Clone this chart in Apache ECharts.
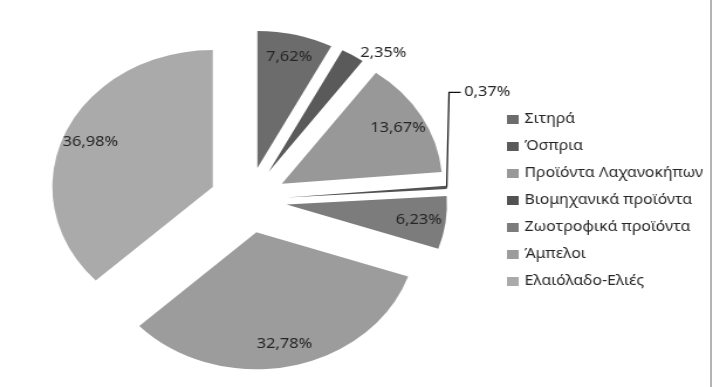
<!DOCTYPE html>
<html><head><meta charset="utf-8">
<script src="https://cdn.jsdelivr.net/npm/echarts/dist/echarts.min.js"></script>
<style>
html,body{margin:0;padding:0;background:#fff;overflow:hidden}
#wrap{position:relative;width:713px;height:387px;overflow:hidden;background:#fff}
#edge{position:absolute;left:710px;top:0;width:2px;height:387px;background:#b4b4b4}
#chart{position:absolute;left:0;top:0;width:609px;height:387px;transform:scaleX(1.1708);transform-origin:0 0}
</style></head><body>
<div id="wrap"><div id="chart"></div><div id="edge"></div></div>
<script>
// Data
const categories = ['Σιτηρά', 'Όσπρια', 'Προϊόντα Λαχανοκήπων', 'Βιομηχανικά προϊόντα', 'Ζωοτροφικά προϊόντα', 'Άμπελοι', 'Ελαιόλαδο-Ελιές'];
const shares = [7.62, 2.35, 13.67, 0.37, 6.23, 32.78, 36.98];
const colors = ['#6c6c6c', '#5a5a5a', '#989898', '#525252', '#7c7c7c', '#9c9c9c', '#aaaaaa'];
const outsideLabelled = ['Όσπρια', 'Βιομηχανικά προϊόντα'];

const fmt = v => v.toFixed(2).replace('.', ',') + '%';
const R = 137, OFF = 33, CENTER = [212, 200];
const FONT = 'Noto Sans';

const chart = echarts.init(document.getElementById('chart'), null, {renderer: 'canvas'});

const mainData = categories.map((n, i) => {
  const outside = outsideLabelled.includes(n);
  const item = {name: n, value: shares[i], selected: true, itemStyle: {color: colors[i]}};
  if (outside) {
    item.label = {show: true, position: 'outside'};
    if (n === 'Βιομηχανικά προϊόντα') {
      item.labelLine = {show: true, length: 2, length2: 2, lineStyle: {color: '#111', width: 1.2}};
    } else {
      item.labelLine = {show: false, length: 3, length2: 0};
    }
  }
  return item;
});

const labelData = categories.map((n, i) => ({
  name: n, value: shares[i], selected: true,
  label: {show: !outsideLabelled.includes(n)}
}));

const labelStyle = {fontFamily: FONT, fontSize: 14, color: '#262626', formatter: p => fmt(p.value)};

chart.setOption({
  animation: false,
  legend: {
    orient: 'vertical', left: 433, top: 112, padding: 0, itemWidth: 10, itemHeight: 9, itemGap: 12,
    icon: 'rect', selectedMode: false, data: categories,
    textStyle: {fontFamily: FONT, fontSize: 13.5, color: '#262626', lineHeight: 15}
  },
  series: [
    {
      type: 'pie', center: CENTER, radius: [0, R], startAngle: 90, clockwise: true,
      selectedMode: 'multiple', selectedOffset: OFF, silent: true,
      label: Object.assign({show: false}, labelStyle),
      labelLine: {show: false},
      labelLayout: function (p) {
        if (p.dataIndex !== 3 || !p.labelLinePoints) return {};
        const p0 = p.labelLinePoints[0];
        const p1 = [p0[0] + 2, p0[1] - 95];
        const p2 = [p1[0] + 10, p1[1]];
        const r = p.labelRect;
        return {
          dx: p2[0] + 3 - r.x,
          dy: p2[1] - (r.y + r.height / 2),
          labelLinePoints: [p0, p1, p2]
        };
      },
      data: mainData
    },
    {
      type: 'pie', center: CENTER, radius: [R * 0.62, R], startAngle: 90, clockwise: true,
      selectedMode: 'multiple', selectedOffset: OFF, silent: true,
      itemStyle: {color: 'rgba(0,0,0,0)'},
      label: Object.assign({show: true, position: 'inside'}, labelStyle),
      labelLine: {show: false},
      data: labelData
    }
  ]
});
</script>
</body></html>
